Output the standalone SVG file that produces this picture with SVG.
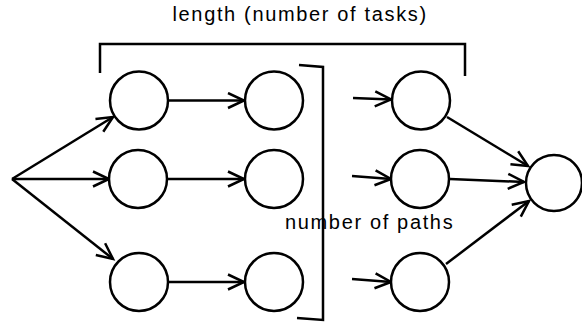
<svg xmlns="http://www.w3.org/2000/svg" width="582" height="326" viewBox="0 0 582 326">
<defs>
<style>
.n{fill:#fff;stroke:#000;stroke-width:2.5}
.c{fill:none;stroke:#000;stroke-width:2.5}
.a{fill:none;stroke:#000;stroke-width:2.5;marker-end:url(#ah)}
.t{font-family:"Liberation Sans",Arial,sans-serif;font-size:20px;letter-spacing:1.65px;fill:#000}
</style>
<marker id="ah" markerUnits="userSpaceOnUse" viewBox="0 0 20 18" refX="17" refY="9" markerWidth="20" markerHeight="18" orient="auto">
<path d="M1,1.5 L17,9 L1,16.5" fill="none" stroke="#000" stroke-width="2.5"/>
</marker>
</defs>
<rect width="582" height="326" fill="#fff"/>
<text class="t" x="172.5" y="21">length (number of tasks)</text>
<text class="t" x="285" y="229">number of paths</text>
<g id="brackets">
<path class="c" d="M100,73 L100,44 L465,44 L465,76"/>
<path class="c" d="M299,65 L323,67 L323,320 L297,318"/>
</g>
<g id="connectors">
<line class="a" x1="12" y1="179" x2="113" y2="117"/>
<line class="a" x1="12" y1="179" x2="109" y2="179"/>
<line class="a" x1="12" y1="179" x2="113" y2="259"/>
<line class="a" x1="168" y1="100.5" x2="244" y2="100.5"/>
<line class="a" x1="168" y1="179" x2="244" y2="179"/>
<line class="a" x1="168" y1="282" x2="244" y2="282"/>
<line class="a" x1="353" y1="98" x2="391" y2="99.5"/>
<line class="a" x1="352" y1="176" x2="391" y2="179"/>
<line class="a" x1="352" y1="279" x2="391" y2="282"/>
<line class="a" x1="447" y1="117" x2="528" y2="166"/>
<line class="a" x1="450" y1="179" x2="524" y2="182"/>
<line class="a" x1="446" y1="264" x2="529" y2="201"/>
</g>
<g id="n11"><circle class="n" cx="139" cy="100.5" r="29"/></g>
<g id="n21"><circle class="n" cx="138" cy="179" r="29"/></g>
<g id="n31"><circle class="n" cx="139" cy="282" r="29"/></g>
<g id="n12"><circle class="n" cx="274" cy="100.5" r="29"/></g>
<g id="n22"><circle class="n" cx="274" cy="179" r="29"/></g>
<g id="n32"><circle class="n" cx="274" cy="282" r="29"/></g>
<g id="n13"><circle class="n" cx="421" cy="100.5" r="29"/></g>
<g id="n23"><circle class="n" cx="420" cy="179" r="29"/></g>
<g id="n33"><circle class="n" cx="420" cy="282" r="29"/></g>
<g id="nend"><circle class="n" cx="554" cy="183" r="28"/></g>
</svg>
